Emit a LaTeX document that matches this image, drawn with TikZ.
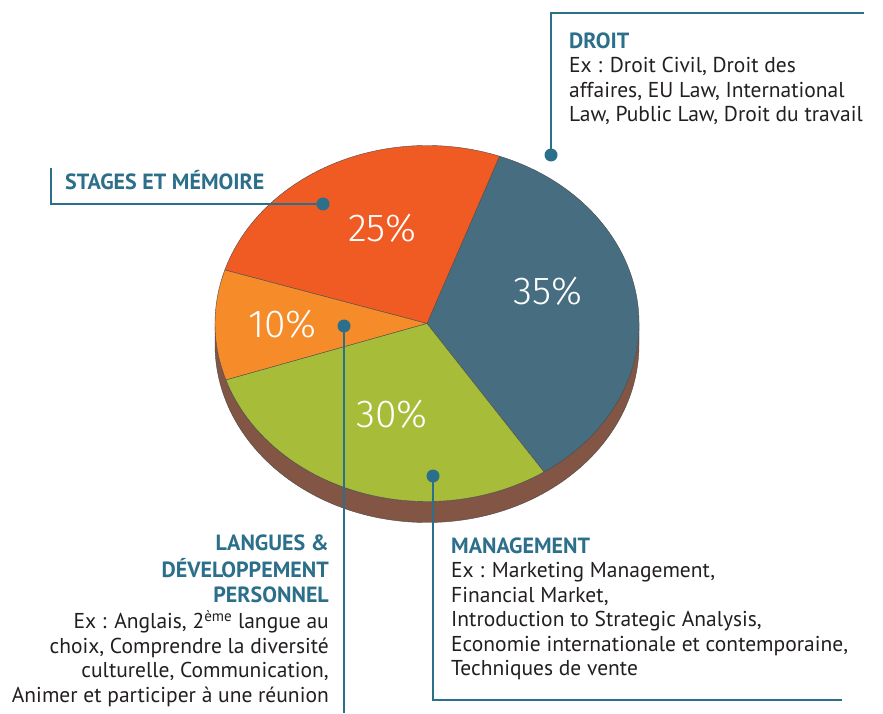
\documentclass[tikz,border=0pt]{standalone}
\usepackage{fontspec}
\setmainfont{PT Sans}
\newfontfamily\pctfont{Fira Sans Light}
\usetikzlibrary{calc}
\definecolor{cstage}{HTML}{F05A23}
\definecolor{clang}{HTML}{F68B2A}
\definecolor{cmgmt}{HTML}{A7BD3A}
\definecolor{cdroit}{HTML}{476D81}
\definecolor{cside}{HTML}{825544}
\definecolor{cteal}{HTML}{2C6F8B}
\definecolor{ctext}{HTML}{231F20}
\newcommand\ttlfont{\bfseries\fontsize{22}{24.5}\selectfont}
\begin{document}
\begin{tikzpicture}[x=1pt,y=1pt,
  edge/.style={draw=black!70, line width=0.4pt},
  pct/.style={font=\pctfont\fontsize{39}{39}\selectfont, text=white, inner sep=0pt},
  dot/.style={circle, fill=cteal, inner sep=0pt, minimum size=13pt},
  lead/.style={draw=cteal, line width=2pt},
  lbl/.style={font=\fontsize{21.5}{24.5}\selectfont, text=ctext, inner sep=0pt},
  ttl/.style={font=\ttlfont, text=cteal, inner sep=0pt}]
\useasboundingbox (0,0) rectangle (883,713);
\fill[white] (0,0) rectangle (883,713);
\coordinate (c) at (427,389.5);
% side of the pie
\filldraw[fill=cside, edge] ($(c)+(180:212pt and 178pt)$) arc[start angle=180,end angle=360,x radius=212pt,y radius=178pt]
  -- ++(0,-21) arc[start angle=360,end angle=180,x radius=212pt,y radius=178pt] -- cycle;
% slices
\filldraw[fill=cdroit, edge] (c) -- ($(c)+(-56.5:212pt and 178pt)$) arc[start angle=-56.5,end angle=70,x radius=212pt,y radius=178pt] -- cycle;
\filldraw[fill=cstage, edge] (c) -- ($(c)+(70:212pt and 178pt)$) arc[start angle=70,end angle=162.5,x radius=212pt,y radius=178pt] -- cycle;
\filldraw[fill=clang, edge] (c) -- ($(c)+(162.5:212pt and 178pt)$) arc[start angle=162.5,end angle=198.5,x radius=212pt,y radius=178pt] -- cycle;
\filldraw[fill=cmgmt, edge] (c) -- ($(c)+(198.5:212pt and 178pt)$) arc[start angle=198.5,end angle=303.5,x radius=212pt,y radius=178pt] -- cycle;
% percentages
\node[pct] (p25) at (382,485) {25\%};
\node[pct] (p35) at (548,422) {35\%};
\node[pct] (p10) at (282.5,389) {10\%};
\node[pct] (p30) at (392,299) {30\%};
% leader corners
\coordinate (k1) at (551,700);
\coordinate (k1e) at (864,700);
\coordinate (k2) at (51,509);
\coordinate (k2e) at (51,545);
\coordinate (k3) at (344,0);
\coordinate (k4) at (433,13);
\coordinate (k4e) at (842,13);
% dots
\node[dot] (d35) at (551,558) {};
\node[dot] (d25) at (323,509) {};
\node[dot] (d10) at (344,387) {};
\node[dot] (d30) at (433,237) {};
% leaders
\draw[lead] (d35.center) -- (k1) -- (k1e);
\draw[lead] (d25.center) -- (k2) -- (k2e);
\draw[lead] (d10.center) -- (k3);
\draw[lead] (d30.center) -- (k4) -- (k4e);
% labels
\node[lbl, anchor=north west, align=left] (tdroit) at (569,682.15)
  {\strut\textcolor{cteal}{\ttlfont DROIT}\\
   Ex : Droit Civil, Droit des\\
   affaires, EU Law, International\\
   Law, Public Law, Droit du travail};
\node[ttl, anchor=base west] (tstage) at (65,523) {STAGES ET MÉMOIRE};
\node[lbl, anchor=north west, align=left] (tmgmt) at (451,177.15)
  {\strut\textcolor{cteal}{\ttlfont MANAGEMENT}\\
   Ex : Marketing Management,\\
   Financial Market,\\
   Introduction to Strategic Analysis,\\
   Economie internationale et contemporaine,\\
   Techniques de vente};
\node[lbl, anchor=north east, align=right] (tlang) at (329,180.15)
  {\strut\textcolor{cteal}{\ttlfont LANGUES \&}\hspace{4pt}\\
   \textcolor{cteal}{\ttlfont DÉVELOPPEMENT}\\
   \textcolor{cteal}{\ttlfont PERSONNEL}\\[2pt]
   Ex : Anglais, 2\textsuperscript{ème} langue au\hspace{4pt}\\
   choix, Comprendre la diversité\hspace{4pt}\\
   culturelle, Communication,\hspace{4pt}\\
   Animer et participer à une réunion};
\end{tikzpicture}
\end{document}
